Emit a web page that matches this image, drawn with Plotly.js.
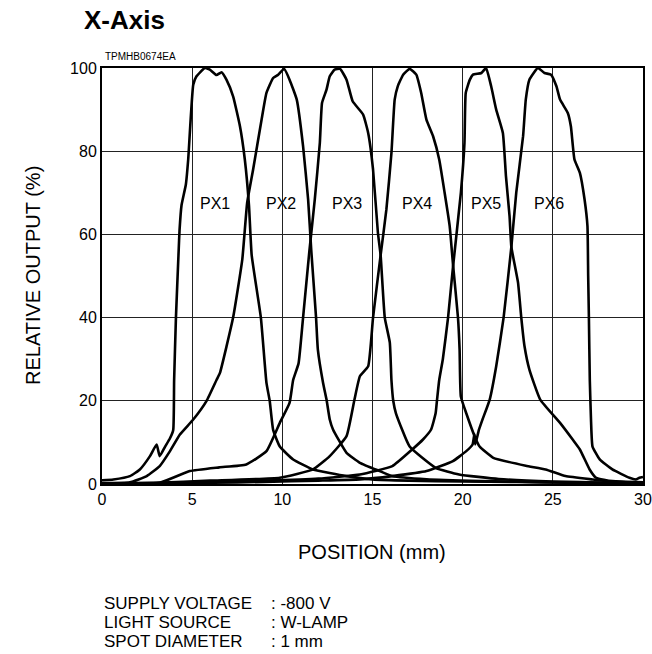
<!DOCTYPE html>
<html>
<head>
<meta charset="utf-8">
<script src="https://cdn.plot.ly/plotly-3.0.1.min.js"></script>
<style>
html,body{margin:0;padding:0;background:#fff;}
#chart{width:652px;height:654px;}
</style>
</head>
<body>
<div id="chart"></div>
<script>
// ---- data ----
const seriesNames = ["PX1","PX2","PX3","PX4","PX5","PX6"];

const px1X = [0,0.63,1.55,2.1,2.66,3.03,3.2,3.5,3.77,3.95,4.0,4.1,4.25,4.3,4.41,4.65,4.78,5.06,5.24,5.7,5.98,6.35,6.63,6.9,7.27,7.65,7.92,8.15,8.3,8.81,9.12,9.3,9.49,9.86,10.6,11.7,13.56,15,17,20,23,26,30];
const px1Y = [0.9,1.1,1.9,3.5,6.7,9.5,6.7,9,11,13,25,40,56,61,67,72,78,96,98,100,99.6,98.3,99,97.2,93.2,86,78,67,55,40,24.3,20,13,9,5.9,3.5,1.9,1.1,0.8,0.6,0.5,0.3,0.2];

const px2X = [0,1.55,2.48,3.2,3.77,4.32,5.06,5.8,6.35,6.54,7.27,7.78,8.05,8.38,8.85,9.12,9.49,9.77,10.1,10.4,10.8,11.15,11.43,11.6,11.87,11.97,12.26,12.45,12.63,12.81,13.56,14.3,15.4,16.1,18,21,24,27,30];
const px2Y = [0.2,0.4,1.9,4.3,7.9,11.9,15.5,20,25,26.7,40,54,67.6,75.6,87.6,94,97.6,98.4,99.8,97.2,92.4,81.2,68.4,56.4,40,32.3,24.3,20.3,15.5,13.1,7.5,5.1,3.1,1.9,1.1,0.7,0.5,0.3,0.2];

const px3X = [0,3.2,4.87,6.5,8.0,9.12,9.86,10.4,10.6,10.9,11.15,11.5,11.8,12.08,12.2,12.45,12.63,12.9,13.2,13.56,13.9,14.48,14.76,15.03,15.3,15.45,15.68,15.96,16.05,16.15,16.3,17.06,18.5,19.8,22,25,28,30];
const px3Y = [0,0.3,3.1,4.0,4.7,7.9,14.7,19.5,25,29,40,56,68.4,82,91.6,94.8,98,99.6,99.8,97.2,92,88.8,84.4,75.6,60.4,55,40,34,25,20,17,9,3.9,2.3,1.2,0.6,0.3,0.2];

const px4X = [0,3,6,9.86,11.7,12.63,13.56,14.0,14.3,14.76,15.03,15.45,15.77,16.05,16.23,16.4,16.7,17.06,17.43,17.7,17.99,18.36,18.7,19,19.28,19.46,19.74,19.83,19.9,20.2,20.66,20.94,21.7,23.5,24.6,25.7,27.2,28.5,30];
const px4Y = [0.1,0.3,0.8,1.5,3.5,6.7,11.5,20.3,25.9,28.3,40,55,66,79.6,92.4,95.6,98.4,99.8,98.4,94,87.6,83.6,78,70,62,53,40,32.3,21,17,11.5,9,6.3,4.4,3.5,1.9,1.1,0.5,0.3];

const px5X = [0,3,6,9,12,14.3,16.1,17.2,17.8,18.25,18.5,18.58,18.7,18.9,19.19,19.46,19.9,20.1,20.17,20.4,20.57,21.04,21.3,21.58,21.86,22.23,22.4,22.6,22.7,23.07,23.25,23.43,23.7,24.3,25.4,26.1,26.5,27.04,27.4,28.3,30];
const px5Y = [0.1,0.2,0.5,0.8,1.3,2.3,4.3,8.3,10.7,13.1,17,20.3,25,30,40,52,70,82,94,97.2,98.4,98.8,100,95.6,90,84.4,74,64.4,57,48.4,40,33.1,27.5,20.3,14.7,10.7,8.3,3.5,1.5,0.7,0.4];

const px6X = [0,3,6,9,12,14.3,16.1,18,19.46,20.2,20.55,20.65,20.7,20.9,21.1,21.5,21.86,22.27,22.7,22.97,23.35,23.5,23.7,24.17,24.54,24.9,25.2,25.4,25.83,26.0,26.2,26.5,26.76,26.92,26.96,27.0,27.05,27.12,27.2,27.6,28.3,29.25,29.6,29.8,30];
const px6Y = [0,0.1,0.3,0.5,0.8,1.1,1.9,3.1,5.5,7.9,9.5,12,9.5,13,15.5,20.3,28.3,40,57,70,83.6,92.4,97.2,100,98.8,98.4,95.6,92.4,89.2,86,78,74.8,68.4,62,50,40,25,15,9,5.9,3.5,1.5,1.1,1.5,1.7];

const labelX = [6.26,9.95,13.56,17.47,21.27,24.78];
const labelY = [67.4,67.4,67.4,67.4,67.4,67.4];

const xTicks = [0,5,10,15,20,25,30];
const yTicks = [0,20,40,60,80,100];

const noteLabels = ["SUPPLY VOLTAGE","LIGHT SOURCE","SPOT DIAMETER"];
const noteValues = [": -800 V",": W-LAMP",": 1 mm"];

// ---- drawing ----
const FONT = "Liberation Sans, Arial, Helvetica, sans-serif";
const xs = [px1X,px2X,px3X,px4X,px5X,px6X];
const ys = [px1Y,px2Y,px3Y,px4Y,px5Y,px6Y];

const traces = seriesNames.map((n,i)=>({
  type:"scatter", mode:"lines", name:n,
  x:xs[i], y:ys[i],
  line:{color:"#000", width:2.6, shape:"spline", smoothing:0.4},
  hoverinfo:"skip", cliponaxis:true
}));

const L=102, T=68, W=541, H=416;
function px2paperX(p){return (p-L)/W;}
function px2paperY(p){return (T+H-p)/H;}

const annotations = [];
seriesNames.forEach((n,i)=>{
  annotations.push({x:labelX[i], y:labelY[i], xref:"x", yref:"y", text:n, showarrow:false,
    font:{family:FONT, size:16, color:"#000"}, xanchor:"center", yanchor:"middle"});
});
annotations.push({x:px2paperX(103), y:px2paperY(57), xref:"paper", yref:"paper", text:"TPMHB0674EA", showarrow:false,
  xanchor:"left", yanchor:"middle", font:{family:FONT, size:10, color:"#000"}});
annotations.push({x:px2paperX(82), y:px2paperY(20), xref:"paper", yref:"paper", text:"<b>X-Axis</b>", showarrow:false,
  xanchor:"left", yanchor:"middle", font:{family:FONT, size:26, color:"#000"}});
annotations.push({x:px2paperX(372), y:px2paperY(552), xref:"paper", yref:"paper", text:"POSITION (mm)", showarrow:false,
  xanchor:"center", yanchor:"middle", font:{family:FONT, size:20, color:"#000"}});
annotations.push({x:px2paperX(33), y:px2paperY(276), xref:"paper", yref:"paper", text:"RELATIVE OUTPUT (%)", showarrow:false,
  textangle:-90, xanchor:"center", yanchor:"middle", font:{family:FONT, size:20, color:"#000"}});
const noteYs=[603,622,641];
noteLabels.forEach((t,i)=>{
  annotations.push({x:px2paperX(103), y:px2paperY(noteYs[i]), xref:"paper", yref:"paper", text:t, showarrow:false,
    xanchor:"left", yanchor:"middle", borderpad:0, font:{family:FONT, size:17, color:"#000"}});
  annotations.push({x:px2paperX(270), y:px2paperY(noteYs[i]), xref:"paper", yref:"paper", text:noteValues[i], showarrow:false,
    xanchor:"left", yanchor:"middle", borderpad:0, font:{family:FONT, size:17, color:"#000"}});
});

const layout = {
  width:652, height:654,
  margin:{l:L, r:652-L-W, t:T, b:654-T-H, pad:0},
  paper_bgcolor:"#fff", plot_bgcolor:"#fff",
  showlegend:false,
  font:{family:FONT, color:"#000", size:15},
  xaxis:{range:[0,30], tickvals:xTicks, ticktext:xTicks.map(String), showgrid:true, gridcolor:"#222", gridwidth:1,
    zeroline:false, showline:true, linecolor:"#000", linewidth:2, mirror:true, ticks:"", ticklen:0,
    tickfont:{family:FONT, size:16, color:"#000"}, fixedrange:true},
  yaxis:{range:[0,100], tickvals:yTicks, ticktext:yTicks.map(String), showgrid:true, gridcolor:"#222", gridwidth:1,
    zeroline:false, showline:true, linecolor:"#000", linewidth:2, mirror:true, ticks:"", ticklen:0,
    tickfont:{family:FONT, size:16, color:"#000"}, fixedrange:true},
  annotations:annotations
};

Plotly.newPlot("chart", traces, layout, {displayModeBar:false, staticPlot:true});
</script>
</body>
</html>
